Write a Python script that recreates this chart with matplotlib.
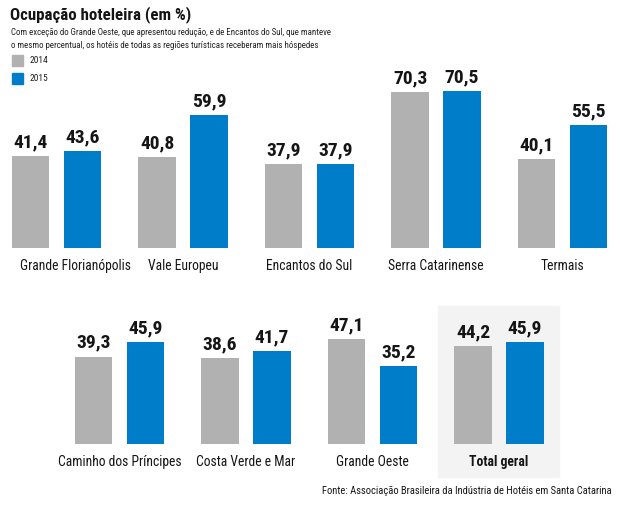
import matplotlib
matplotlib.use("Agg")
import matplotlib.pyplot as plt
from matplotlib.patches import Rectangle

plt.rcParams['font.family'] = ['Roboto Condensed', 'DejaVu Sans']

top_regions = ['Grande Florianópolis', 'Vale Europeu', 'Encantos do Sul',
               'Serra Catarinense', 'Termais']
top_2014 = [41.4, 40.8, 37.9, 70.3, 40.1]
top_2015 = [43.6, 59.9, 37.9, 70.5, 55.5]

bottom_regions = ['Caminho dos Príncipes', 'Costa Verde e Mar', 'Grande Oeste',
                  'Total geral']
bottom_2014 = [39.3, 38.6, 47.1, 44.2]
bottom_2015 = [45.9, 41.7, 35.2, 45.9]

years = ['2014', '2015']

GRAY = '#b2b1b1'
BLUE = '#007dc8'
INK = '#151515'
W, H = 620, 520
SCALE = 2.22  # px per percentage point


def fmt(v):
    return f'{v:.1f}'.replace('.', ',')


def draw_row(ax, regions, v14, v15, bold_last=False, first_shift=0):
    x = list(range(len(regions)))
    off = 0.205
    bw = 0.296
    ax.bar([i - off for i in x], v14, width=bw, color=GRAY)
    ax.bar([i + off for i in x], v15, width=bw, color=BLUE)
    for i in x:
        for xx, v in ((i - off, v14[i]), (i + off, v15[i])):
            ax.annotate(fmt(v), (xx, v), xytext=(0, 3.5),
                        textcoords='offset points', ha='center', va='bottom',
                        fontsize=14, fontweight='bold', color=INK)
        bold = bold_last and i == len(regions) - 1
        shift = first_shift if i == 0 else 0
        ax.annotate(regions[i], (i, 0), xytext=(shift, -13),
                    textcoords='offset points', ha='center', va='center',
                    fontsize=9.8, fontweight='bold' if bold else 'normal',
                    color=INK, annotation_clip=False)
    ax.set_ylim(0, 80)
    ax.axis('off')


fig = plt.figure(figsize=(6.2, 5.2), dpi=100)

# top row: baseline at 248 px from top
ax1 = fig.add_axes([0, (H - 248) / H, 1, 80 * SCALE / H])
ax1.set_xlim(-56.5 / 126.5, (W - 56.5) / 126.5)
draw_row(ax1, top_regions, top_2014, top_2015, first_shift=13.5)

# bottom row: baseline at 444 px from top
fig.patches.append(Rectangle((438 / W, (H - 477) / H), 121 / W, 171 / H,
                             transform=fig.transFigure, color='#f3f3f3',
                             zorder=-1))
ax2 = fig.add_axes([0, (H - 444) / H, 1, 80 * SCALE / H])
ax2.set_xlim(-119.5 / 126.5, (W - 119.5) / 126.5)
draw_row(ax2, bottom_regions, bottom_2014, bottom_2015, bold_last=True)

fig.text(10 / W, 1 - 15 / H, 'Ocupação hoteleira (em %)', fontsize=12.2,
         fontweight='bold', va='center', ha='left', color=INK)
fig.text(11 / W, 1 - 39 / H,
         'Com exceção do Grande Oeste, que apresentou redução, e de Encantos do Sul, que manteve\n'
         'o mesmo percentual, os hotéis de todas as regiões turísticas receberam mais hóspedes',
         fontsize=6.4, va='center', ha='left', color='#222222', linespacing=1.45)

for k, (yr, col) in enumerate(zip(years, [GRAY, BLUE])):
    ytop = 55 + 18 * k
    fig.patches.append(Rectangle((12 / W, 1 - (ytop + 11) / H), 11 / W, 11 / H,
                                 transform=fig.transFigure, color=col))
    fig.text(30 / W, 1 - (ytop + 5.5) / H, yr, fontsize=6.8, va='center',
             ha='left', color='#222222')

fig.text(612 / W, 1 - 491 / H,
         'Fonte: Associação Brasileira da Indústria de Hotéis em Santa Catarina',
         fontsize=7.6, va='center', ha='right', color=INK)

fig.savefig('out.png', dpi=100)
